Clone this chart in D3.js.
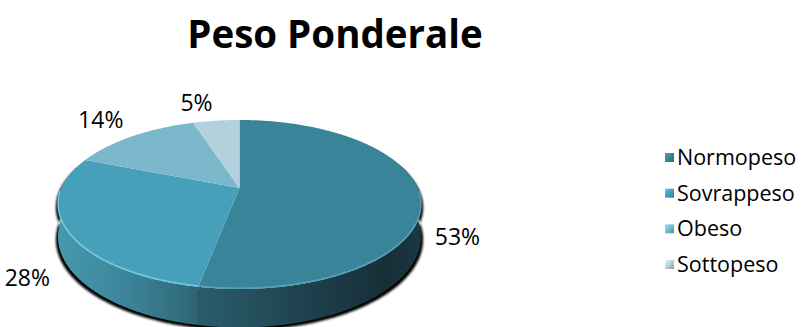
<!DOCTYPE html>
<html>
<head>
<meta charset="utf-8">
<script src="https://cdn.jsdelivr.net/npm/d3@7"></script>
<style>
  html, body { margin: 0; padding: 0; background: #fff; }
  svg { display: block; }
  text { font-family: "Open Sans", "Noto Sans", sans-serif; fill: #000; }
</style>
</head>
<body>
<svg id="chart" width="803" height="327"></svg>
<script>
// Chart data
const title = "Peso Ponderale";
const categories = ["Normopeso", "Sovrappeso", "Obeso", "Sottopeso"];
const values = [53, 28, 14, 5];
const topColors = ["#3a8499", "#46a0b9", "#7bb8cc", "#b2d1dc"];
const rimColors = ["#5aa8bd", "#74d2e8", "#a5d6e6", "#d6eaf1"];
const wallStops = [
  ["#2b5d6c", "#1f4350", "#162e37", "#1c3843"],
  ["#4698ae", "#3d879c", "#326f80", "#2c6373"],
  ["#5e96a8", "#4d8597", "#3f7585", "#366a79"],
  ["#8fb2be", "#7fa2ae", "#6d909c", "#5e8390"]
];

const svg = d3.select("#chart");
const defs = svg.append("defs");

// 3D pie geometry: perspective-projected disc with vertical wall
const cx = 239.5, cy0 = 188, kx = 178, ky = 81.3, persp = 0.195, depth = 31;
function proj(t, f = 1, h = 0) {
  const s = Math.sin(t) * f, c = Math.cos(t) * f;
  const den = 1 + persp * c;
  return [cx + kx * s / den, cy0 - ky * c / den + h * depth / den];
}
function arcPts(a0, a1, h) {
  const n = Math.max(2, Math.ceil(Math.abs(a1 - a0) / 0.01));
  return d3.range(n + 1).map(i => proj(a0 + (a1 - a0) * i / n, 1, h));
}
const line = d3.line();

const pie = d3.pie().sort(null).value(d => d.value);
const arcs = pie(categories.map((c, i) => ({ name: c, value: values[i], i })));

// Visible front range of the wall (with margin, back parts are hidden by the top)
const wallLo = Math.PI / 2 - 0.3, wallHi = 1.5 * Math.PI + 0.3;

// Drop shadow under the wall
const blur = defs.append("filter").attr("id", "shadowBlur")
  .attr("x", "-10%").attr("y", "-10%").attr("width", "120%").attr("height", "130%");
blur.append("feGaussianBlur").attr("stdDeviation", 0.9);
const shadowPts = arcPts(wallLo, wallHi, 0).concat(arcPts(wallHi, wallLo, 1))
  .map(([x, y]) => [cx + (x - cx) * 1.012, y + 3]);
svg.append("path")
  .attr("d", line(shadowPts) + "Z")
  .attr("fill", "#000")
  .attr("filter", "url(#shadowBlur)");

// Wall faces, shaded left to right
arcs.forEach(a => {
  const lo = Math.max(a.startAngle, wallLo), hi = Math.min(a.endAngle, wallHi);
  if (hi <= lo) return;
  const pts = arcPts(lo, hi, 0).concat(arcPts(hi, lo, 1));
  const xs = pts.map(p => p[0]);
  const gid = "wall" + a.data.i;
  const g = defs.append("linearGradient").attr("id", gid)
    .attr("gradientUnits", "userSpaceOnUse")
    .attr("x1", d3.min(xs)).attr("x2", d3.max(xs)).attr("y1", 0).attr("y2", 0);
  const st = wallStops[a.data.i];
  [0, 0.45, 0.85, 1].forEach((o, j) => g.append("stop").attr("offset", o).attr("stop-color", st[j]));
  svg.append("path")
    .attr("d", line(pts) + "Z")
    .attr("fill", `url(#${gid})`);
});

// Top faces
arcs.forEach(a => {
  const pts = [proj(0, 0)].concat(arcPts(a.startAngle, a.endAngle, 0));
  svg.append("path")
    .attr("d", line(pts) + "Z")
    .attr("fill", topColors[a.data.i]);
});

// Bevel highlight along the front rim
arcs.forEach(a => {
  const lo = Math.max(a.startAngle, Math.PI / 2 + 0.05), hi = Math.min(a.endAngle, 1.5 * Math.PI - 0.05);
  if (hi <= lo) return;
  svg.append("path")
    .attr("d", line(arcPts(lo, hi, 0).map(([x, y]) => [x, y - 0.8])))
    .attr("fill", "none")
    .attr("stroke", rimColors[a.data.i])
    .attr("stroke-width", 1.6)
    .attr("stroke-opacity", 0.8);
});

// Percentage labels, placed just outside each slice
const total = d3.sum(values);
const labelSize = 23;
arcs.forEach(a => {
  const mid = (a.startAngle + a.endAngle) / 2;
  const s = Math.sin(mid), c = Math.cos(mid);
  const front = c < 0;
  const [x, y] = proj(mid, 1.08, front ? 1 : 0);
  const pct = Math.round(a.data.value / total * 100) + "%";
  svg.append("text")
    .attr("x", s >= 0 ? x : x - 2)
    .attr("y", front ? y + labelSize * 0.72 : y - 5)
    .attr("text-anchor", s >= 0 ? "start" : "end")
    .attr("font-size", labelSize)
    .text(pct);
});

// Title
svg.append("text")
  .attr("x", 335).attr("y", 48)
  .attr("text-anchor", "middle")
  .attr("font-size", 38.5)
  .attr("font-weight", 700)
  .text(title);

// Legend
const ly = d3.scalePoint().domain(categories).range([165, 272]);
const legend = svg.append("g");
categories.forEach((c, i) => {
  const gid = "leg" + i;
  const g = defs.append("linearGradient").attr("id", gid)
    .attr("x1", 0).attr("y1", 0).attr("x2", 1).attr("y2", 1);
  g.append("stop").attr("offset", 0).attr("stop-color", d3.color(topColors[i]).brighter(0.6));
  g.append("stop").attr("offset", 0.5).attr("stop-color", topColors[i]);
  g.append("stop").attr("offset", 1).attr("stop-color", d3.color(topColors[i]).darker(0.8));
  const y = ly(c);
  legend.append("rect")
    .attr("x", 665).attr("y", y - 12).attr("width", 9).attr("height", 9)
    .attr("fill", `url(#${gid})`);
  legend.append("text")
    .attr("x", 677).attr("y", y)
    .attr("font-size", 21.5)
    .text(c);
});
</script>
</body>
</html>
